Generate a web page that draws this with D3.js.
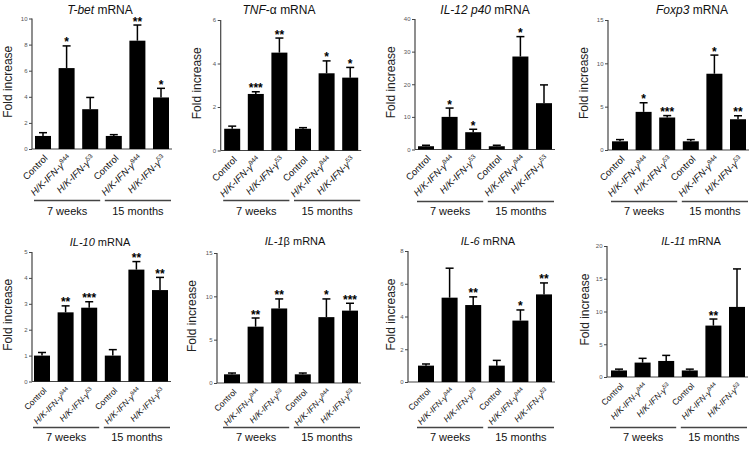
<!DOCTYPE html>
<html><head><meta charset="utf-8">
<script src="https://cdn.jsdelivr.net/npm/d3@7"></script>
<style>
html,body{margin:0;padding:0;background:#fff;}
svg{display:block;font-family:"Liberation Sans",Arial,sans-serif;}
</style></head><body>
<svg id="chart" width="751" height="451"></svg>
<script>
// ---------- data ----------
const categories = ["Control", "H/K-IFN-γ944", "H/K-IFN-γ53", "Control", "H/K-IFN-γ944", "H/K-IFN-γ53"];
const groups = ["7 weeks", "15 months"];
const yLabel = "Fold increase";

const titles = [
  [["T-bet", true], [" mRNA", false]],
  [["TNF", true], ["-α mRNA", false]],
  [["IL-12 p40", true], [" mRNA", false]],
  [["Foxp3", true], [" mRNA", false]],
  [["IL-10", true], [" mRNA", false]],
  [["IL-1", true], ["β mRNA", false]],
  [["IL-6", true], [" mRNA", false]],
  [["IL-11", true], [" mRNA", false]]
];

const yMax = [10, 6, 40, 15, 5, 15, 8, 20];
const yTicks = [
  [0, 2, 4, 6, 8, 10],
  [0, 2, 4, 6],
  [0, 10, 20, 30, 40],
  [0, 5, 10, 15],
  [0, 1, 2, 3, 4, 5],
  [0, 5, 10, 15],
  [0, 2, 4, 6, 8],
  [0, 5, 10, 15, 20]
];

const tbetMean = [1.0, 6.2, 3.05, 1.0, 8.3, 3.95];
const tbetErr  = [1.25, 7.9, 3.95, 1.1, 9.5, 4.65];
const tbetSig  = ["", "*", "", "", "**", "*"];

const tnfMean = [1.0, 2.6, 4.5, 1.0, 3.55, 3.35];
const tnfErr  = [1.12, 2.7, 5.17, 1.05, 4.12, 3.82];
const tnfSig  = ["", "***", "**", "", "*", "*"];

const il12Mean = [1.0, 10.0, 5.3, 1.0, 28.5, 14.2];
const il12Err  = [1.3, 12.7, 6.2, 1.3, 34.6, 19.8];
const il12Sig  = ["", "*", "*", "", "*", ""];

const foxp3Mean = [1.0, 4.4, 3.75, 1.0, 8.8, 3.55];
const foxp3Err  = [1.2, 5.45, 3.97, 1.2, 10.95, 3.95];
const foxp3Sig  = ["", "*", "***", "", "*", "**"];

const il10Mean = [1.0, 2.67, 2.85, 1.0, 4.32, 3.53];
const il10Err  = [1.12, 2.92, 3.08, 1.23, 4.63, 4.02];
const il10Sig  = ["", "**", "***", "", "**", "**"];

const il1bMean = [1.0, 6.5, 8.6, 1.0, 7.6, 8.35];
const il1bErr  = [1.15, 7.5, 9.7, 1.15, 9.7, 9.2];
const il1bSig  = ["", "**", "**", "", "*", "***"];

const il6Mean = [1.0, 5.15, 4.7, 1.0, 3.75, 5.35];
const il6Err  = [1.1, 6.95, 5.2, 1.32, 4.4, 6.05];
const il6Sig  = ["", "", "**", "", "*", "**"];

const il11Mean = [1.0, 2.2, 2.45, 1.0, 7.85, 10.7];
const il11Err  = [1.2, 2.85, 3.3, 1.2, 8.85, 16.5];
const il11Sig  = ["", "", "", "", "**", ""];

const means = [tbetMean, tnfMean, il12Mean, foxp3Mean, il10Mean, il1bMean, il6Mean, il11Mean];
const errs  = [tbetErr, tnfErr, il12Err, foxp3Err, il10Err, il1bErr, il6Err, il11Err];
const sigs  = [tbetSig, tnfSig, il12Sig, foxp3Sig, il10Sig, il1bSig, il6Sig, il11Sig];

// ---------- layout (positions only) ----------
const layout = [
  {ax: 32,    gap: 3,   y0: 149,   yt: 18.5, tx: 100, ty: 14,  lx: 8,   gl: 200.5, gt: 215, fs: 12, cf: 9.5},
  {ax: 220.7, gap: 3.5, y0: 150.5, yt: 20,   tx: 279, ty: 14,  lx: 197, gl: 200.5, gt: 215, fs: 12, cf: 9.5},
  {ax: 415,   gap: 3,   y0: 149.5, yt: 19,   tx: 485, ty: 14,  lx: 391, gl: 201.5, gt: 215, fs: 12, cf: 9.5},
  {ax: 608,   gap: 4,   y0: 150,   yt: 20,   tx: 692, ty: 14,  lx: 584, gl: 201.5, gt: 215, fs: 12, cf: 9.5},
  {ax: 32,    gap: 2,   y0: 381.5, yt: 252,  tx: 100, ty: 246, lx: 8,   gl: 427.5, gt: 441, fs: 11, cf: 8.5},
  {ax: 217,   gap: 7,   y0: 383,   yt: 253,  tx: 295, ty: 245, lx: 192, gl: 427.5, gt: 441, fs: 11, cf: 8.5},
  {ax: 408,   gap: 10,  y0: 382,   yt: 251,  tx: 488, ty: 245, lx: 391, gl: 427.5, gt: 441, fs: 11, cf: 8.5},
  {ax: 607,   gap: 4,   y0: 377,   yt: 246,  tx: 691, ty: 245, lx: 585, gl: 427.5, gt: 441, fs: 11, cf: 8.5}
];
const STEP = 23.6, BW = 16;

const svg = d3.select("#chart");
const axisColor = "#444";

layout.forEach((L, p) => {
  const g = svg.append("g");
  const y = d3.scaleLinear().domain([0, yMax[p]]).range([L.y0, L.yt]);
  const left = L.ax + L.gap;
  const x = d3.scaleBand().domain(d3.range(categories.length))
    .range([left, left + 5 * STEP + BW])
    .paddingInner((STEP - BW) / STEP).paddingOuter(0);

  // title
  const t = g.append("text").attr("x", L.tx).attr("y", L.ty)
    .attr("text-anchor", "middle").attr("font-size", L.fs).attr("fill", "#111");
  titles[p].forEach(([s, it]) => t.append("tspan").text(s).attr("font-style", it ? "italic" : "normal"));

  // y label
  g.append("text").attr("transform", `translate(${L.lx},${(L.y0 + L.yt) / 2 - 2}) rotate(-90)`)
    .attr("text-anchor", "middle").attr("dy", "0.35em").attr("font-size", 12).attr("fill", "#222")
    .text(yLabel);

  // y axis
  const ya = g.append("g").attr("transform", `translate(${L.ax},0)`)
    .call(d3.axisLeft(y).tickValues(yTicks[p]).tickSize(3).tickPadding(1.5).tickFormat(d3.format("d")));
  ya.select(".domain").attr("stroke", axisColor).attr("stroke-width", 1.2).attr("d", `M0,${L.y0}V${L.yt}`);
  ya.selectAll(".tick line").attr("stroke", axisColor);
  ya.selectAll(".tick text").attr("font-size", 6).attr("fill", "#555").attr("font-family", "Liberation Sans, Arial, sans-serif");

  // x axis line
  g.append("line").attr("x1", L.ax).attr("x2", x(5) + BW + 3)
    .attr("y1", L.y0).attr("y2", L.y0).attr("stroke", axisColor).attr("stroke-width", 1.2);

  const idx = d3.range(categories.length);
  // error bars
  idx.forEach(i => {
    const cx = x(i) + x.bandwidth() / 2;
    const yt = y(errs[p][i]);
    g.append("line").attr("x1", cx).attr("x2", cx).attr("y1", y(means[p][i])).attr("y2", yt)
      .attr("stroke", "#000").attr("stroke-width", 1.5);
    g.append("line").attr("x1", cx - 4).attr("x2", cx + 4).attr("y1", yt).attr("y2", yt)
      .attr("stroke", "#000").attr("stroke-width", 1.5);
    if (sigs[p][i]) {
      g.append("text").attr("x", cx).attr("y", yt + 0.5).attr("text-anchor", "middle")
        .attr("font-size", 12).attr("font-weight", "bold").attr("fill", "#000").text(sigs[p][i]);
    }
  });
  // bars
  g.selectAll("rect.bar").data(idx).join("rect").attr("class", "bar")
    .attr("x", i => x(i)).attr("width", x.bandwidth())
    .attr("y", i => y(means[p][i])).attr("height", i => L.y0 - y(means[p][i]))
    .attr("fill", "#000");

  // category labels
  idx.forEach(i => {
    const cx = x(i) + x.bandwidth() / 2;
    const c = categories[i];
    const tt = g.append("text").attr("transform", `translate(${cx + 3},${L.y0 + 7.5}) rotate(-45)`)
      .attr("text-anchor", "end").attr("dy", "0.35em").attr("font-size", L.cf).attr("fill", "#111");
    const m = c.match(/^(H\/K-IFN-γ)(\d+)$/);
    if (m) {
      tt.append("tspan").text(m[1]).attr("font-style", "italic");
      tt.append("tspan").text(m[2]).attr("font-size", L.cf * 0.68).attr("dy", -L.cf * 0.37);
    } else {
      tt.text(c);
    }
  });

  // group lines & labels
  [[0, 2], [3, 5]].forEach(([a, b], k) => {
    const x1 = x(a) - 1, x2 = x(b) + BW + 2;
    g.append("line").attr("x1", x1).attr("x2", x2).attr("y1", L.gl).attr("y2", L.gl)
      .attr("stroke", axisColor).attr("stroke-width", 1.3);
    g.append("text").attr("x", (x1 + x2) / 2).attr("y", L.gt).attr("text-anchor", "middle")
      .attr("font-size", 11).attr("fill", "#111").text(groups[k]);
  });
});
</script>
</body></html>
